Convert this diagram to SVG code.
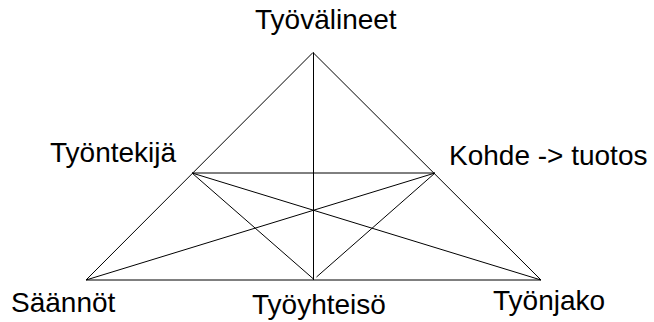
<svg xmlns="http://www.w3.org/2000/svg" width="654" height="322" viewBox="0 0 654 322">
  <style>
    .lbl { font-family: "Liberation Sans", Arial, sans-serif; font-size: 28px; fill: #000; }
    .edge { stroke: #000; stroke-width: 1; fill: none; }
  </style>
  <rect width="654" height="322" fill="#fff"/>
  <g id="connectors">
    <line class="edge" x1="313" y1="52.5" x2="86" y2="280"/>
    <line class="edge" x1="313" y1="52.5" x2="541" y2="280"/>
    <line class="edge" x1="86" y1="280" x2="541" y2="280"/>
    <line class="edge" x1="313.5" y1="52.5" x2="313.5" y2="280"/>
    <line class="edge" x1="192" y1="173" x2="435" y2="173"/>
    <line class="edge" x1="192" y1="173" x2="313.5" y2="279"/>
    <line class="edge" x1="435" y1="173" x2="316.5" y2="277"/>
    <line class="edge" x1="192" y1="173" x2="541" y2="280"/>
    <line class="edge" x1="435" y1="173" x2="86" y2="280"/>
  </g>
  <g id="tyovalineet"><text class="lbl" x="255" y="29">Työvälineet</text></g>
  <g id="tyontekija"><text class="lbl" x="50" y="162">Työntekijä</text></g>
  <g id="kohde"><text class="lbl" x="449" y="165">Kohde -&gt; tuotos</text></g>
  <g id="saannot"><text class="lbl" x="11" y="312">Säännöt</text></g>
  <g id="tyoyhteiso"><text class="lbl" x="252" y="314">Työyhteisö</text></g>
  <g id="tyonjako"><text class="lbl" x="493" y="310">Työnjako</text></g>
</svg>
